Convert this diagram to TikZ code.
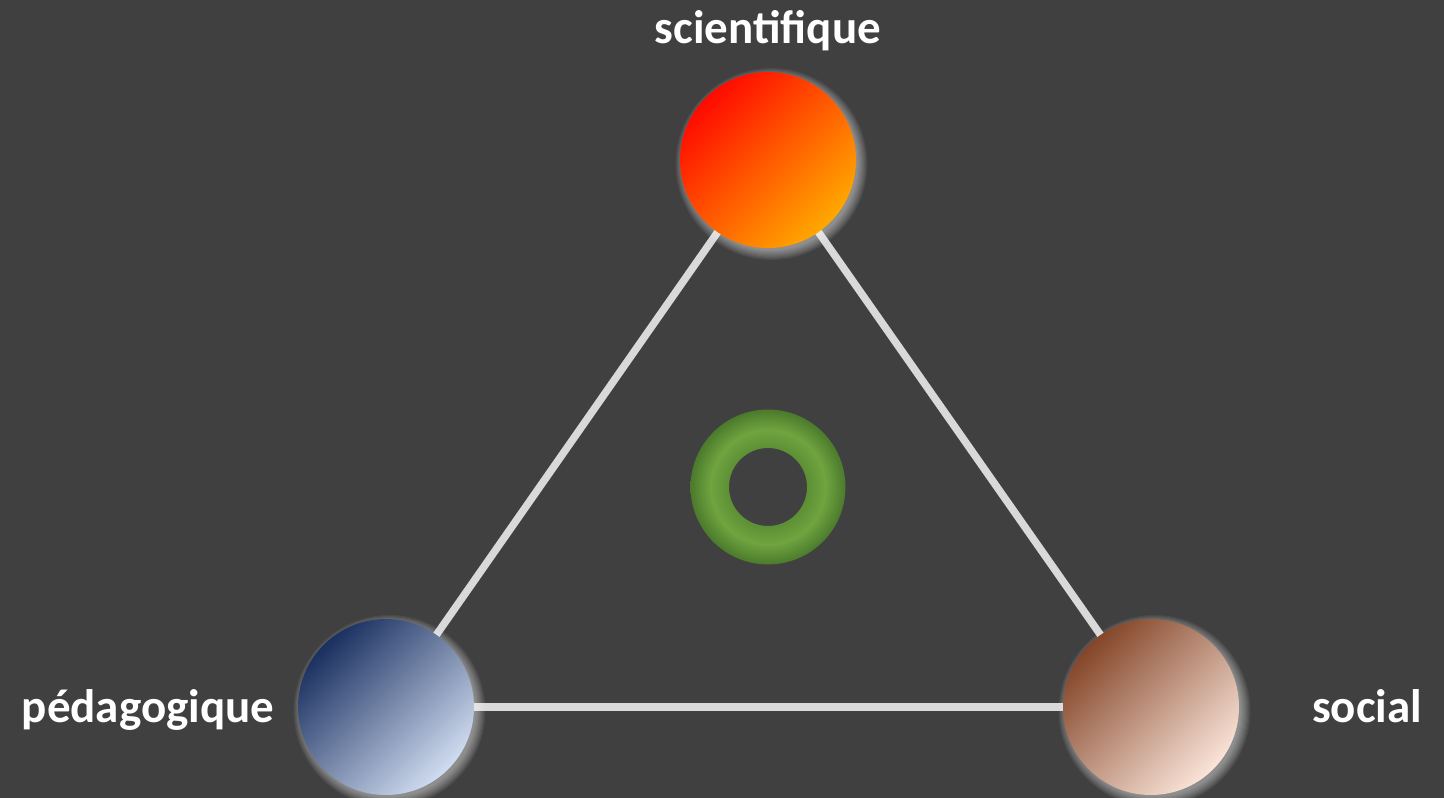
\documentclass[tikz,border=0pt]{standalone}
\usepackage{fontspec}
\setmainfont{Carlito}
\usetikzlibrary{calc,shadings}
\definecolor{bg}{HTML}{404040}
\definecolor{edgec}{HTML}{D9D9D9}
\definecolor{redA}{HTML}{FF0A00}
\definecolor{redB}{HTML}{FFA800}
\definecolor{bluA}{HTML}{1A3060}
\definecolor{bluB}{HTML}{D0DCF0}
\definecolor{brnA}{HTML}{844629}
\definecolor{brnB}{HTML}{FAE4D8}
\definecolor{grnD}{HTML}{4B7A2C}
\definecolor{grnL}{HTML}{6FA43F}
\pgfdeclareradialshading{ringshade}{\pgfpoint{0bp}{0bp}}{%
  color(0bp)=(grnD!50!grnL);color(12.6bp)=(grnD!50!grnL);color(18.5bp)=(grnL);color(25bp)=(grnD);color(50bp)=(grnD)}
\tikzset{
  lbl/.style={text=white,font=\bfseries\fontsize{47}{56}\selectfont,inner sep=0pt,anchor=base},
  edge/.style={draw=edgec,line width=7.5pt},
  ball/.style={circle,minimum size=176pt,inner sep=0pt},
}
\newcommand{\glowball}[3]{%
  \foreach \k in {1,...,10}{
    \fill[white,opacity=0.055] ($(#1)+(3.5,4)$) circle ({85+\k*1.1});
  }
  \shade[left color=#2,right color=#3,shading angle=45] (#1) circle (88);
}
\begin{document}
\begin{tikzpicture}[x=1pt,y=-1pt]
\fill[bg] (0,0) rectangle (1444,798);
\useasboundingbox (0,0) rectangle (1444,798);
\node[ball] (S) at (768,160) {};
\node[ball] (P) at (386,707) {};
\node[ball] (O) at (1151,707) {};
\coordinate (C) at (768,487);
\draw[edge] (S.center) -- (P.center);
\draw[edge] (S.center) -- (O.center);
\draw[edge] (P.center) -- (O.center);
\glowball{S}{redA}{redB}
\glowball{P}{bluA}{bluB}
\glowball{O}{brnA}{brnB}
\shade[shading=ringshade,even odd rule] (C) circle (77.5) (C) circle (39);
\node[lbl] (tS) at (768,43) {scientifique};
\node[lbl] (tP) at (148,722) {pédagogique};
\node[lbl] (tO) at (1367,722) {social};
\end{tikzpicture}
\end{document}
